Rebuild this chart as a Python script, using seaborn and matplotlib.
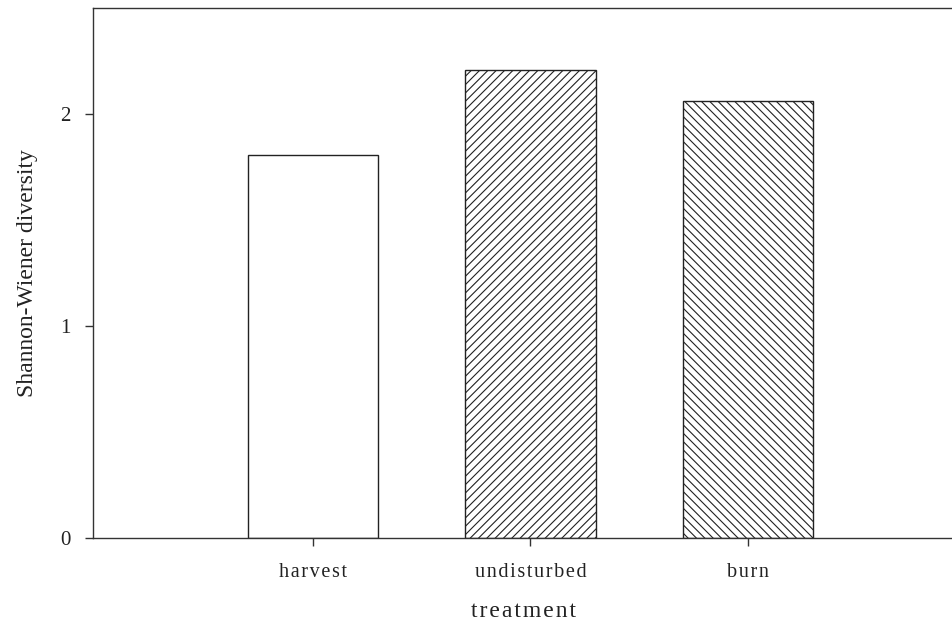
import matplotlib
matplotlib.use("Agg")
import matplotlib.pyplot as plt
import seaborn as sns
import pandas as pd

treatments = ["harvest", "undisturbed", "burn"]
diversity = [1.807, 2.208, 2.061]
hatches = ["", "////", "\\\\\\\\"]

sns.set_theme(style="white")
plt.rcParams["font.family"] = ["Liberation Serif", "DejaVu Serif"]
plt.rcParams["hatch.linewidth"] = 0.8
plt.rcParams["hatch.color"] = "#3a3a3a"


def spaced(text):
    # open up the letters a little, as in typeset figure labels
    return "\u200a".join(text)


df = pd.DataFrame({"treatment": treatments, "diversity": diversity})

fig = plt.figure(figsize=(9.53, 6.24), dpi=100)
ax = fig.add_axes([93 / 953, 86 / 624, 1.0 - 93 / 953 + 0.002, 530 / 624])

sns.barplot(data=df, x="treatment", y="diversity", color="white",
            edgecolor="#222222", linewidth=1.0, width=0.6, saturation=1,
            ax=ax)
for bar, h in zip(ax.patches, hatches):
    bar.set_hatch(h)
    bar.set_facecolor("white")

ax.set_xlim(-1.01, 2.95)
ax.set_ylim(0, 2.5)
ax.set_yticks([0, 1, 2])
ax.set_yticklabels(["0", "1", "2"])
ax.set_xticks(range(len(treatments)))
ax.set_xticklabels([spaced(t) for t in treatments])

for side in ("left", "bottom", "top"):
    ax.spines[side].set_color("#333333")
    ax.spines[side].set_linewidth(1.0)
ax.spines["right"].set_visible(False)

ax.tick_params(axis="both", which="major", bottom=True, left=True,
               direction="out", length=6, width=1.0,
               color="#333333", labelcolor="#222222")
ax.tick_params(axis="x", labelsize=14.5, pad=12)
ax.tick_params(axis="y", labelsize=15, pad=10)

ax.set_xlabel(spaced("treatment"), fontsize=17, color="#222222", labelpad=14)
ax.set_ylabel("Shannon-Wiener diversity", fontsize=17, color="#222222",
              labelpad=16)

fig.savefig("out.png", dpi=100)
